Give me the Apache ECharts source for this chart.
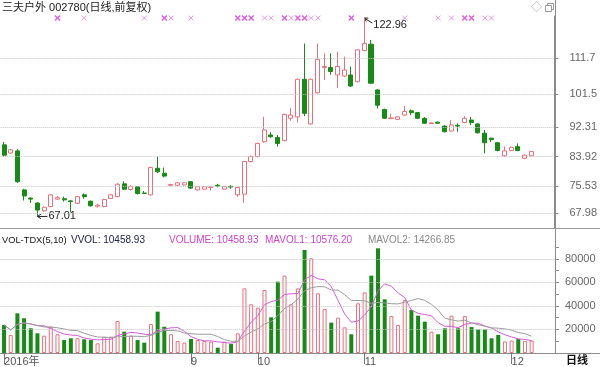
<!DOCTYPE html>
<html><head><meta charset="utf-8">
<script src="https://cdn.jsdelivr.net/npm/echarts@6/dist/echarts.min.js"></script>
<style>html,body{margin:0;padding:0;background:#fff;overflow:hidden}#c{width:600px;height:367px}</style>
</head><body><div id="c"></div>
<script>
// ---------- data ----------
const dates = [
 '2016-07-25','2016-07-26','2016-07-27','2016-07-28','2016-07-29',
 '2016-08-01','2016-08-02','2016-08-03','2016-08-04','2016-08-05','2016-08-08','2016-08-09','2016-08-10','2016-08-11','2016-08-12',
 '2016-08-15','2016-08-16','2016-08-17','2016-08-18','2016-08-19','2016-08-22','2016-08-23','2016-08-24','2016-08-25','2016-08-26',
 '2016-08-29','2016-08-30','2016-08-31',
 '2016-09-01','2016-09-02','2016-09-05','2016-09-06','2016-09-07','2016-09-08','2016-09-09','2016-09-12','2016-09-13','2016-09-14',
 '2016-10-10','2016-10-11','2016-10-12','2016-10-13','2016-10-14','2016-10-17','2016-10-18','2016-10-19','2016-10-20','2016-10-21',
 '2016-10-24','2016-10-25','2016-10-26','2016-10-27','2016-10-28','2016-10-31',
 '2016-11-01','2016-11-02','2016-11-03','2016-11-04','2016-11-07','2016-11-08','2016-11-09','2016-11-10','2016-11-11','2016-11-14',
 '2016-11-15','2016-11-16','2016-11-17','2016-11-18','2016-11-21','2016-11-22','2016-11-23','2016-11-24','2016-11-25','2016-11-28',
 '2016-11-29','2016-11-30',
 '2016-12-01','2016-12-02','2016-12-05','2016-12-06'
];
const futureDates = ['2016-12-07','2016-12-08','2016-12-09'];

const opens = [87.2,84.9,85.5,74.5,72.2,70.8,68.6,69.8,71.9,72.0,
 71.4,70.7,73.1,71.3,69.9,69.8,72.1,72.6,76.2,74.6,
 75.4,73.6,73.1,80.6,79.2,75.8,75.8,75.9,76.8,74.5,
 74.7,75.2,75.8,74.7,75.5,73.1,73.3,82.5,83.9,88.1,
 90.0,89.3,88.4,94.7,95.1,105.7,93.1,101.9,109.0,109.0,
 106.9,106.6,106.9,105.0,113.8,115.6,102.7,97.2,94.6,94.4,
 95.6,96.8,96.3,94.7,93.2,93.6,92.5,91.1,92.7,93.5,
 94.2,93.1,90.5,89.1,87.8,84.1,85.6,86.7,83.4,84.1];
const closes = [84.3,85.8,76.8,72.8,71.9,68.8,69.6,73.1,72.3,71.7,
 71.2,72.6,72.6,70.0,70.2,71.8,73.1,76.1,74.7,75.5,
 73.5,73.5,80.8,79.6,78.4,76.0,76.5,76.5,75.0,75.4,
 75.4,75.35,75.6,75.4,75.3,75.2,82.5,83.9,87.6,91.4,
 89.5,87.6,95.8,95.6,105.7,96.1,105.7,111.3,109.3,107.9,
 109.3,108.3,103.8,114.0,115.8,104.6,98.4,94.7,94.8,95.1,
 96.6,96.3,94.7,93.3,93.4,93.3,90.9,92.8,92.5,94.7,
 93.5,90.6,87.8,88.7,85.6,85.5,86.5,85.6,84.3,85.3];
const lows = [83.8,84.7,76.5,71.5,70.8,67.01,68.3,69.6,71.7,71.2,
 68.2,70.5,72.0,69.8,69.5,69.6,72.0,72.4,74.5,74.3,
 73.2,73.4,72.9,79.3,78.0,75.6,75.6,75.7,74.8,74.3,
 74.5,74.3,75.2,74.5,74.8,72.5,70.8,82.2,83.7,87.8,
 89.2,86.7,88.2,94.0,93.5,95.3,92.9,101.7,105.5,107.0,
 103.2,106.4,103.5,104.8,113.6,104.4,97.5,94.5,94.5,94.2,
 95.4,95.6,94.5,93.1,93.1,93.2,90.7,90.9,90.9,93.3,
 92.8,90.4,84.8,88.0,85.4,83.9,85.4,85.4,83.2,84.0];
const highs = [88.0,86.0,86.0,74.8,72.3,71.0,69.8,73.3,72.8,72.6,
 71.6,72.8,73.5,71.5,70.6,72.0,73.3,76.4,76.9,75.8,
 75.6,74.2,81.0,83.9,80.8,76.2,76.7,76.7,77.0,75.6,
 75.6,75.4,76.2,75.6,75.8,75.4,82.7,84.2,87.8,95.1,
 90.8,90.0,96.0,97.5,105.9,115.8,105.9,115.8,113.0,113.0,
 113.5,112.1,109.3,114.2,122.96,116.8,102.9,97.4,96.0,95.3,
 98.2,97.2,96.5,95.0,93.6,93.8,92.7,94.2,93.3,95.3,
 95.1,93.3,91.4,89.2,88.0,86.7,86.7,87.6,84.5,85.5];
const volumes = [23800,15300,33700,29500,21000,16700,14700,22300,15900,11000,
 12500,12500,11600,11000,8200,13800,13800,27200,18100,14700,
 11000,8800,24600,35100,22300,15900,10200,8800,11900,11000,
 10200,9600,4500,9600,7600,16700,54900,41400,38500,53500,
 30300,60600,65700,41400,54900,87500,80400,50700,37400,25800,
 30000,21800,15900,42200,51500,65700,88900,45600,31400,23800,
 45000,36500,31700,26600,18100,15900,21000,31700,21000,31400,
 22000,20000,20000,12500,15300,9800,10500,11800,10300,10459];
const priceTicks = [67.98, 75.53, 83.92, 92.31, 101.5, 111.7];
const volTicks = [20000, 40000, 60000, 80000];
const volMinorTicks = [10000,20000,30000,40000,50000,60000,70000,80000,90000];
const markStrong = [8,24,35,36,37,42,44,45,52,69,70];
const markLight = [12,21,25,28,39,40,43,46,47,60,65,67,72,73];
const titleText = '三夫户外 002780(日线,前复权)';
const volHeader = [
  {text:'VOL-TDX(5,10)', color:'#111111'},
  {text:'VVOL: 10458.93', color:'#22224a'},
  {text:'VOLUME: 10458.93', color:'#cc44cc'},
  {text:'MAVOL1: 10576.20', color:'#cc44cc'},
  {text:'MAVOL2: 14266.85', color:'#888888'}
];
const volHeaderX = [2, 71, 169, 265, 368];
const volHeaderSize = [9.3, 10, 10, 10, 10];

// ---------- style ----------
const UP = '#e8707e', DOWN = '#178a17', GRIDC = '#c4c4c4', AXC = '#8c8c8c', LABC = '#666666';
const FONT = "'Liberation Sans','Noto Sans CJK SC',Arial,sans-serif";
const cats = dates.concat(futureDates);
const L = 0.7, R = 45;
const YEAR_GAP = 8; // month labels too close to the year label are skipped

function ma(n){
  return volumes.map((v,i)=>{const s=volumes.slice(Math.max(0,i-n+1),i+1);return +(s.reduce((a,b)=>a+b,0)/s.length).toFixed(1);});
}
const candles = dates.map((d,i)=>[opens[i],closes[i],lows[i],highs[i]]);
const volData = volumes.map((v,i)=> closes[i] >= opens[i]
  ? {value:v, itemStyle:{color:'#ffffff', borderColor:UP, borderWidth:1}}
  : {value:v, itemStyle:{color:DOWN, borderColor:DOWN, borderWidth:0}});
const labelAt = (idx) => idx === 0 || (idx >= YEAR_GAP && idx < dates.length && dates[idx].slice(5,7) !== dates[idx-1].slice(5,7));

const chart = echarts.init(document.getElementById('c'), null, {renderer:'canvas'});
const hidden = {show:false};
const option = {
  animation:false,
  textStyle:{fontFamily:FONT},
  grid:[
    {left:L, right:R, top:16, height:212},
    {left:L, right:R, top:235.25, bottom:13.5},
    {left:L, right:R, top:13, height:10}
  ],
  xAxis:[
    {type:'category', gridIndex:0, data:cats, boundaryGap:true, axisLine:hidden, axisTick:hidden, axisLabel:hidden, splitLine:hidden},
    {type:'category', gridIndex:1, data:cats, boundaryGap:true,
      axisLine:{show:true, lineStyle:{color:AXC}},
      axisTick:{show:true, alignWithLabel:true, length:11, interval:(i)=>labelAt(i), lineStyle:{color:'#777'}},
      axisLabel:{show:true, interval:(i)=>labelAt(i), hideOverlap:false, showMinLabel:true, align:'left', margin:3, color:'#555', fontSize:11, fontFamily:FONT,
        formatter:(v,i)=> i===0 ? v.slice(0,4)+'年' : String(+v.slice(5,7))},
      splitLine:hidden},
    {type:'category', gridIndex:2, data:cats, boundaryGap:true, show:false}
  ],
  yAxis:[
    {type:'value', gridIndex:0, position:'right', min:63.75, max:123.55, scale:true,
      axisLine:{show:true, lineStyle:{color:AXC}},
      axisTick:{show:true, customValues:priceTicks, length:4, lineStyle:{color:AXC}},
      axisLabel:{show:true, customValues:priceTicks, margin:15, color:LABC, fontSize:11, fontFamily:FONT, formatter:(v)=>String(v)},
      splitLine:hidden},
    {type:'value', gridIndex:1, position:'right', min:0, max:100000,
      axisLine:{show:true, lineStyle:{color:AXC}},
      axisTick:{show:true, customValues:volMinorTicks, length:4, lineStyle:{color:AXC}},
      axisLabel:{show:true, customValues:volTicks, margin:10, color:LABC, fontSize:11, fontFamily:FONT, formatter:(v)=>String(v)},
      splitLine:hidden},
    {type:'value', gridIndex:2, min:0, max:2, show:false}
  ],
  series:[
    {type:'candlestick', xAxisIndex:0, yAxisIndex:0, data:candles, barWidth:'68%',
      itemStyle:{color:'#ffffff', color0:DOWN, borderColor:UP, borderColor0:DOWN, borderWidth:1},
      markLine:{silent:true, symbol:'none', label:hidden, animation:false,
        lineStyle:{color:GRIDC, type:'dotted', width:1},
        data:priceTicks.map(v=>({yAxis:v}))}},
    {type:'bar', xAxisIndex:1, yAxisIndex:1, data:volData, barWidth:'60%',
      markLine:{silent:true, symbol:'none', label:hidden, animation:false,
        lineStyle:{color:GRIDC, type:'dotted', width:1},
        data:volTicks.map(v=>({yAxis:v}))}},
    {type:'line', xAxisIndex:1, yAxisIndex:1, data:ma(5), showSymbol:false, lineStyle:{color:'#d45cd4', width:1}},
    {type:'line', xAxisIndex:1, yAxisIndex:1, data:ma(10), showSymbol:false, lineStyle:{color:'#9c9c9c', width:1}},
    {type:'scatter', xAxisIndex:2, yAxisIndex:2, data:markStrong.map(i=>[i,1]), symbol:'path://M0,0L10,10M10,0L0,10', symbolSize:5,
      itemStyle:{color:'none', borderColor:'#cf3fcf', borderWidth:1.6}},
    {type:'scatter', xAxisIndex:2, yAxisIndex:2, data:markLight.map(i=>[i,1]), symbol:'path://M0,0L10,10M10,0L0,10', symbolSize:5,
      itemStyle:{color:'none', borderColor:'#e07fe0', borderWidth:1}}
  ]
};
chart.setOption(option);

// annotations from library coordinates
const hiIdx = highs.indexOf(Math.max(...highs));
const loIdx = lows.indexOf(Math.min(...lows));
const [hx, hy] = chart.convertToPixel({xAxisIndex:0, yAxisIndex:0}, [hiIdx, highs[hiIdx]]);
const [lx, ly] = chart.convertToPixel({xAxisIndex:0, yAxisIndex:0}, [loIdx, lows[loIdx]]);
const ink = {stroke:'#222', lineWidth:1, fill:null};
const g = [
  {type:'line', shape:{x1:555.5,y1:0,x2:555.5,y2:354}, style:{stroke:AXC, lineWidth:1}, silent:true},
  {type:'line', shape:{x1:0,y1:228.5,x2:600,y2:228.5}, style:{stroke:'#9a9a9a', lineWidth:1}, silent:true},
  {type:'line', shape:{x1:0,y1:353.5,x2:600,y2:353.5}, style:{stroke:AXC, lineWidth:1}, silent:true},
  {type:'text', left:2, top:2, style:{text:titleText, fill:'#1a1a1a', font:"11px "+FONT}},
  {type:'text', x:531, y:2, style:{text:'◇', fill:'#999', font:"11px "+FONT}},
  {type:'rect', shape:{x:545.5,y:5.5,width:6,height:6}, style:{stroke:'#999', fill:'#fff', lineWidth:1}},
  {type:'polyline', shape:{points:[[547.5,5.5],[547.5,3.5],[553.5,3.5],[553.5,9.5],[551.5,9.5]]}, style:{stroke:'#999', fill:null, lineWidth:1}},
  {type:'text', x:566, y:355, style:{text:'日线', fill:'#111', font:"bold 11px "+FONT}},
  {type:'polyline', shape:{points:[[hx+8,hy+5],[hx,hy]]}, style:ink},
  {type:'polyline', shape:{points:[[hx+4,hy],[hx,hy],[hx+2,hy+3.4]]}, style:ink},
  {type:'text', x:hx+9, y:hy+7, style:{text:highs[hiIdx].toFixed(2), fill:'#222', font:"11px "+FONT, verticalAlign:'middle'}},
  {type:'polyline', shape:{points:[[lx,ly],[lx+10,ly]]}, style:ink},
  {type:'polyline', shape:{points:[[lx+3.5,ly-2.2],[lx,ly],[lx+3.5,ly+2.2]]}, style:ink},
  {type:'text', x:lx+11, y:ly, style:{text:lows[loIdx].toFixed(2), fill:'#222', font:"11px "+FONT, verticalAlign:'middle'}}
];
volHeader.forEach((h,i)=>g.push({type:'text', x:volHeaderX[i], y:240, style:{text:h.text, fill:h.color, font:volHeaderSize[i]+"px "+FONT, verticalAlign:'middle'}}));
chart.setOption({graphic:g});
</script></body></html>
